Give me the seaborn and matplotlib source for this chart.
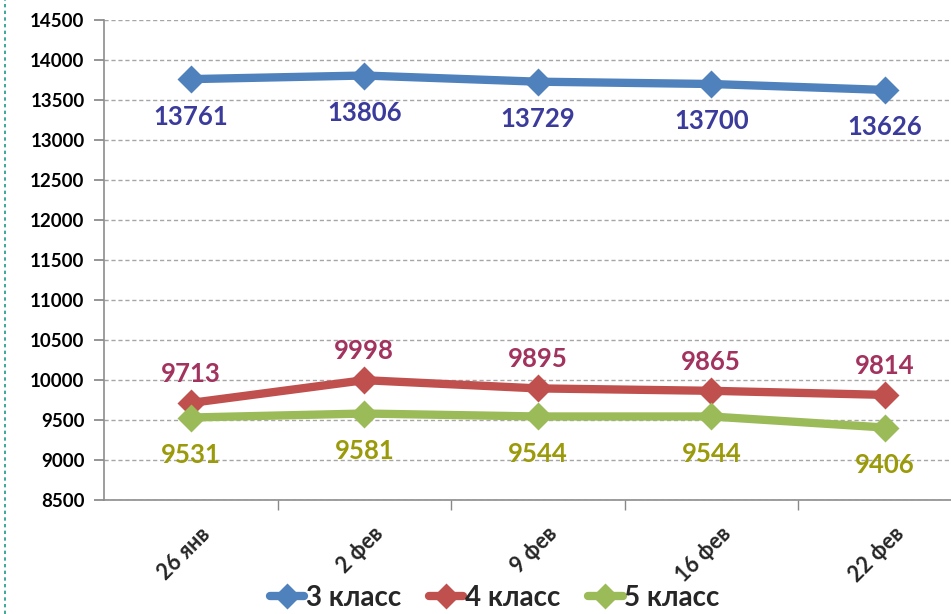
import numpy as np
import pandas as pd
import seaborn as sns
import matplotlib.pyplot as plt
import matplotlib.transforms as mtransforms
from matplotlib.lines import Line2D

dates = ["26 янв", "2 фев", "9 фев", "16 фев", "22 фев"]
klass3 = [13761, 13806, 13729, 13700, 13626]
klass4 = [9713, 9998, 9895, 9865, 9814]
klass5 = [9531, 9581, 9544, 9544, 9406]
series_names = ["3 класс", "4 класс", "5 класс"]

line_colors = ["#4F81BD", "#C0504D", "#9BBB59"]
label_colors = ["#3B3B9C", "#A2325E", "#9A9A0A"]
label_offsets = [-27, 21, -27]  # points, below / above / below

sns.set_theme(style="white")
plt.rcParams['font.family'] = ['Lato', 'DejaVu Sans']

df = pd.DataFrame({
    "date": dates * 3,
    "x": list(range(len(dates))) * 3,
    "value": klass3 + klass4 + klass5,
    "series": [s for s in series_names for _ in dates],
})

fig = plt.figure(figsize=(9.51, 6.14), dpi=100)
ax = fig.add_axes([104 / 951, 1 - 500 / 614, (971.5 - 104) / 951, 480 / 614])

sns.lineplot(data=df, x="x", y="value", hue="series", style="series",
             palette=line_colors, markers=["D", "D", "D"], dashes=False,
             linewidth=6, markersize=14, markeredgecolor="none",
             ax=ax, legend=False, zorder=3)

# data labels
for vals, col, off in zip([klass3, klass4, klass5], label_colors, label_offsets):
    for i, v in enumerate(vals):
        ax.annotate(str(v), (i, v), xytext=(0, off), textcoords="offset points",
                    ha="center", va="center", fontsize=18.5, fontweight="bold",
                    color=col, zorder=5)

ax.set_xlim(-0.5, len(dates) - 0.5)
ax.set_ylim(8500, 14500)
ax.set_yticks(np.arange(8500, 14501, 500))
ax.set_yticklabels([str(v) for v in range(8500, 14501, 500)],
                   fontsize=13.5, fontweight="bold", color="black")
ax.yaxis.grid(True, linestyle=(0, (3, 2)), color="#A6A6A6", linewidth=1)
ax.set_axisbelow(True)

ax.set_xticks(range(len(dates)))
ax.set_xticklabels(dates, rotation=45, ha="right", va="center",
                   rotation_mode="anchor", fontsize=15.5, fontweight="bold")
ax.set_xticks(np.arange(0.5, len(dates) - 0.5, 1), minor=True)
ax.tick_params(axis="x", which="major", length=0, pad=22)
ax.tick_params(axis="x", which="minor", length=7, color="#888888", direction="out", bottom=True)
ax.tick_params(axis="y", length=7, color="#888888", direction="out", left=True, pad=7)
ax.set_xlabel("")
ax.set_ylabel("")

# shift tick labels a little to the right, like the original
shift = mtransforms.ScaledTranslation(16 / 100, 0, fig.dpi_scale_trans)
for lbl in ax.get_xticklabels():
    lbl.set_transform(lbl.get_transform() + shift)

for s in ["top", "right"]:
    ax.spines[s].set_visible(False)
for s in ["left", "bottom"]:
    ax.spines[s].set_color("#8C8C8C")
    ax.spines[s].set_linewidth(1.2)

handles = [Line2D([0], [0], color=c, lw=6, marker="D", markersize=13,
                  markeredgecolor="none") for c in line_colors]
fig.legend(handles, series_names, loc="center", bbox_to_anchor=(0.52, 1 - 598 / 614),
           ncol=3, frameon=False, prop={"size": 20, "weight": "bold"},
           handlelength=1.25, handletextpad=0.05, columnspacing=1.0)

fig.add_artist(Line2D([5 / 951, 5 / 951], [0, 1], color="#1A9A8A",
                      linestyle=(0, (2, 2)), linewidth=1.2))

fig.savefig("out.png", dpi=100)
